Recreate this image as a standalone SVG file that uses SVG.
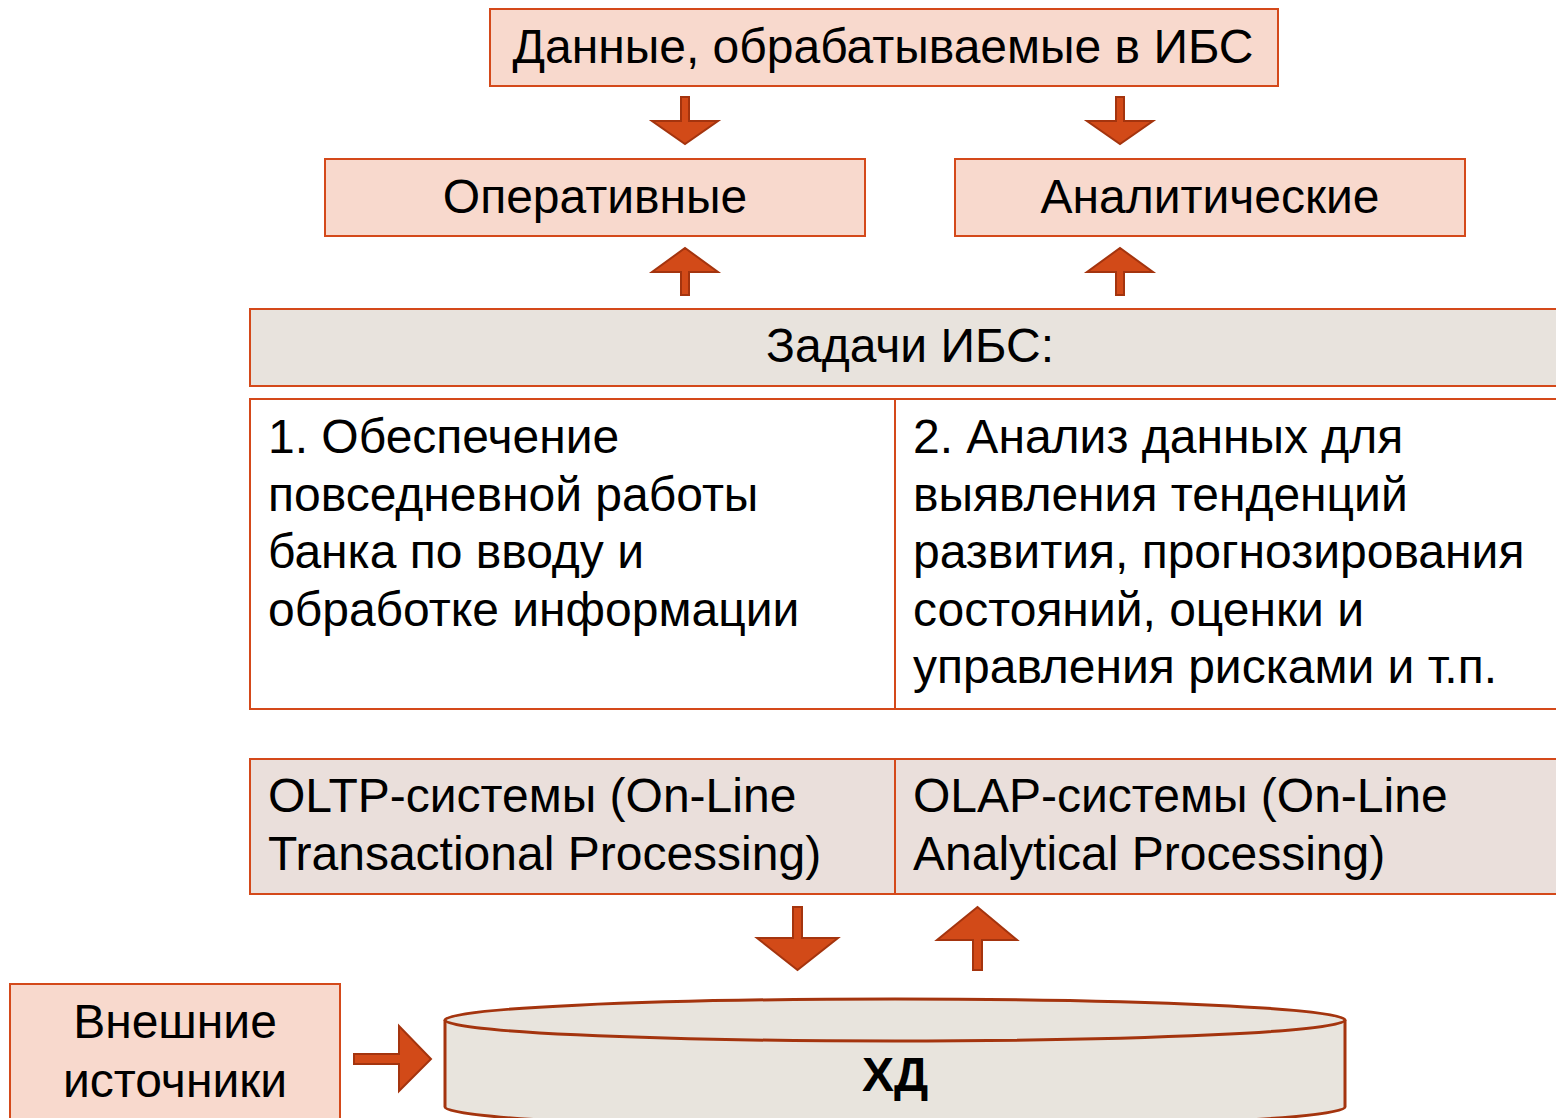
<svg xmlns="http://www.w3.org/2000/svg" width="1556" height="1118" viewBox="0 0 1556 1118">
<style>
text{font-family:"Liberation Sans",Arial,sans-serif;font-size:48px;fill:#000}
.c{text-anchor:middle}
.peach{fill:#F8D9CD;stroke:#D4491A;stroke-width:2}
.gray{fill:#E8E3DD;stroke:#D4491A;stroke-width:2}
.pink{fill:#EADFDB;stroke:#D4491A;stroke-width:2}
.white{fill:#FFFFFF;stroke:#D4491A;stroke-width:2}
.div{stroke:#D4491A;stroke-width:2}
.arr{fill:#D24A18;stroke:#A4340E;stroke-width:2;stroke-linejoin:miter}
.cyl{fill:#E8E4DD;stroke:#A4340E;stroke-width:3}
</style>
<rect width="1556" height="1118" fill="#FFFFFF"/>
<g id="node-data">
<rect class="peach" x="490" y="9" width="788" height="77"/>
<text class="c" x="883" y="63">Данные, обрабатываемые в ИБС</text>
</g>
<g id="node-oper">
<rect class="peach" x="325" y="159" width="540" height="77"/>
<text class="c" x="595" y="213">Оперативные</text>
</g>
<g id="node-anal">
<rect class="peach" x="955" y="159" width="510" height="77"/>
<text class="c" x="1210" y="213">Аналитические</text>
</g>
<g id="node-tasks">
<rect class="gray" x="250" y="309" width="1330" height="77"/>
<text class="c" x="910" y="362">Задачи ИБС:</text>
</g>
<g id="node-task-rows">
<rect class="white" x="250" y="399" width="1330" height="310"/>
<line class="div" x1="895" y1="399" x2="895" y2="709"/>
<text x="268" y="453">1. Обеспечение</text>
<text x="268" y="510.5">повседневной работы</text>
<text x="268" y="568">банка по вводу и</text>
<text x="268" y="625.5">обработке информации</text>
<text x="913" y="453">2. Анализ данных для</text>
<text x="913" y="510.5">выявления тенденций</text>
<text x="913" y="568">развития, прогнозирования</text>
<text x="913" y="625.5">состояний, оценки и</text>
<text x="913" y="683">управления рисками и т.п.</text>
</g>
<g id="node-systems">
<rect class="pink" x="250" y="759" width="1330" height="135"/>
<line class="div" x1="895" y1="759" x2="895" y2="894"/>
<text x="268" y="812">OLTP-системы (On-Line</text>
<text x="268" y="870">Transactional Processing)</text>
<text x="913" y="812">OLAP-системы (On-Line</text>
<text x="913" y="870">Analytical Processing)</text>
</g>
<g id="node-external">
<rect class="peach" x="10" y="984" width="330" height="150"/>
<text class="c" x="175" y="1038">Внешние</text>
<text class="c" x="175" y="1097">источники</text>
</g>
<g id="node-dw">
<path class="cyl" d="M445,1020 L445,1107 A450,21 0 0 0 1345,1107 L1345,1020 A450,21 0 0 0 445,1020 Z"/>
<path class="cyl" d="M445,1020 A450,21 0 0 0 1345,1020" style="fill:none"/>
<text class="c" x="895" y="1091" font-weight="bold">ХД</text>
</g>
<g id="connectors">
<path class="arr" d="M681,97 H689 V121 H718 L685,144 L652,121 H681 Z"/>
<path class="arr" d="M1116,97 H1124 V121 H1153 L1120,144 L1087,121 H1116 Z"/>
<path class="arr" d="M681,295 H689 V272 H718 L685,248 L652,272 H681 Z"/>
<path class="arr" d="M1116,295 H1124 V272 H1153 L1120,248 L1087,272 H1116 Z"/>
<path class="arr" d="M793,907 H802 V938 H838 L797.5,970 L757,938 H793 Z"/>
<path class="arr" d="M973,970 H982 V940 H1017 L977.5,907 L937,940 H973 Z"/>
<path class="arr" d="M354,1054 H399 V1026 L431,1059 L399,1091 V1064 H354 Z"/>
</g>
</svg>
